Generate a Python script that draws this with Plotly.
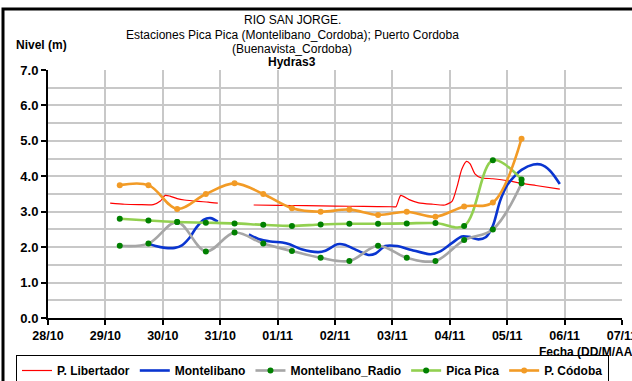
import plotly.graph_objects as go

# --- data -------------------------------------------------------------
# 12-hourly stations (29/10 06:00 -> 05/11 06:00)
t12 = ["2010-10-29 06:00", "2010-10-29 18:00", "2010-10-30 06:00", "2010-10-30 18:00",
       "2010-10-31 06:00", "2010-10-31 18:00", "2010-11-01 06:00", "2010-11-01 18:00",
       "2010-11-02 06:00", "2010-11-02 18:00", "2010-11-03 06:00", "2010-11-03 18:00",
       "2010-11-04 06:00", "2010-11-04 18:00", "2010-11-05 06:00"]
pica_pica = [2.80, 2.75, 2.71, 2.69, 2.67, 2.63, 2.60, 2.64, 2.66, 2.66, 2.67, 2.68, 2.60, 4.45, 3.91]
montelibano_radio = [2.04, 2.10, 2.71, 1.88, 2.41, 2.10, 1.89, 1.70, 1.61, 2.04, 1.70, 1.61, 2.20, 2.50, 3.80]
p_cordoba = [3.75, 3.75, 3.08, 3.50, 3.80, 3.50, 3.10, 3.00, 3.06, 2.91, 3.00, 2.86, 3.15, 3.26, 5.06]

# hourly-style stations (None = no record)
t_lib = ["2010-10-29 02:00", "2010-10-29 08:00", "2010-10-29 14:00", "2010-10-29 20:00",
         "2010-10-29 23:00", "2010-10-30 01:00", "2010-10-30 03:00", "2010-10-30 06:00",
         "2010-10-30 09:00", "2010-10-30 15:00", "2010-10-30 19:00", "2010-10-30 23:00",
         "2010-10-31 07:00",
         "2010-10-31 14:00", "2010-11-01 00:00", "2010-11-01 12:00", "2010-11-02 00:00",
         "2010-11-02 12:00", "2010-11-03 00:00", "2010-11-03 01:30", "2010-11-03 03:30",
         "2010-11-03 07:00", "2010-11-03 11:00", "2010-11-03 17:00", "2010-11-03 22:00",
         "2010-11-04 01:00", "2010-11-04 03:00", "2010-11-04 05:00", "2010-11-04 07:00",
         "2010-11-04 08:30", "2010-11-04 10:30", "2010-11-04 13:00", "2010-11-04 18:00",
         "2010-11-05 00:00", "2010-11-05 06:00", "2010-11-05 12:00", "2010-11-05 22:00"]
p_libertador = [3.24, 3.21, 3.20, 3.20, 3.30, 3.46, 3.44, 3.37, 3.33, 3.29, 3.27, 3.24,
                None,
                3.19, 3.18, 3.17, 3.16, 3.15, 3.14, 3.14, 3.46, 3.34, 3.25, 3.21, 3.19,
                3.30, 3.70, 4.20, 4.42, 4.35, 4.07, 3.96, 3.93, 3.88, 3.80, 3.74, 3.64]

t_mon = ["2010-10-29 18:00", "2010-10-29 21:00", "2010-10-30 01:00", "2010-10-30 05:00",
         "2010-10-30 08:00", "2010-10-30 11:00", "2010-10-30 14:00", "2010-10-30 17:00",
         "2010-10-30 20:00", "2010-10-30 23:00",
         "2010-10-31 05:00",
         "2010-10-31 12:00", "2010-10-31 16:00", "2010-10-31 21:00", "2010-11-01 02:00",
         "2010-11-01 05:00", "2010-11-01 10:00", "2010-11-01 17:00", "2010-11-01 20:00",
         "2010-11-02 01:00", "2010-11-02 04:00", "2010-11-02 08:00", "2010-11-02 14:00",
         "2010-11-02 17:00", "2010-11-02 21:00", "2010-11-03 02:00", "2010-11-03 08:00",
         "2010-11-03 16:00", "2010-11-03 20:00", "2010-11-04 01:00", "2010-11-04 05:00",
         "2010-11-04 08:00", "2010-11-04 12:00", "2010-11-04 15:00", "2010-11-04 18:00",
         "2010-11-04 21:00", "2010-11-05 00:00", "2010-11-05 03:00", "2010-11-05 06:00",
         "2010-11-05 11:00", "2010-11-05 14:00", "2010-11-05 18:00", "2010-11-05 22:00"]
montelibano = [2.10, 2.03, 1.98, 1.98, 2.05, 2.25, 2.55, 2.77, 2.82, 2.72,
               None,
               2.36, 2.23, 2.16, 2.13, 2.08, 1.94, 1.86, 1.90, 2.08, 2.07, 1.95, 1.78,
               1.82, 2.03, 2.03, 1.92, 1.80, 1.88, 2.12, 2.30, 2.29, 2.22, 2.28, 2.60,
               3.30, 3.75, 4.00, 4.18, 4.33, 4.33, 4.15, 3.78]

x_ticks = ["2010-10-28", "2010-10-29", "2010-10-30", "2010-10-31", "2010-11-01", "2010-11-02",
           "2010-11-03", "2010-11-04", "2010-11-05", "2010-11-06", "2010-11-07"]
x_tick_labels = ["28/10", "29/10", "30/10", "31/10", "01/11", "02/11",
                 "03/11", "04/11", "05/11", "06/11", "07/11"]

# --- styling ----------------------------------------------------------
FONT = "Liberation Sans, Arial, sans-serif"
RED = "#FF0000"
BLUE = "#0A35D0"
GRAY = "#A6A6A6"
LGREEN = "#92D050"
DGREEN = "#008000"
ORANGE = "#F29B26"
GRID = "#C8C8C8"

fig = go.Figure()
fig.add_trace(go.Scatter(x=t_lib, y=p_libertador, name="P. Libertador", mode="lines",
                         line=dict(color=RED, width=1.2, shape="spline", smoothing=0.6),
                         connectgaps=False))
fig.add_trace(go.Scatter(x=t_mon, y=montelibano, name="Montelibano", mode="lines",
                         line=dict(color=BLUE, width=2.6, shape="spline", smoothing=0.8),
                         connectgaps=False))
fig.add_trace(go.Scatter(x=t12, y=montelibano_radio, name="Montelibano_Radio", mode="lines+markers",
                         line=dict(color=GRAY, width=2.6, shape="spline", smoothing=1),
                         marker=dict(color=DGREEN, size=6)))
fig.add_trace(go.Scatter(x=t12, y=pica_pica, name="Pica Pica", mode="lines+markers",
                         line=dict(color=LGREEN, width=2.6, shape="spline", smoothing=1),
                         marker=dict(color=DGREEN, size=6)))
fig.add_trace(go.Scatter(x=t12, y=p_cordoba, name="P. Códoba", mode="lines+markers",
                         line=dict(color=ORANGE, width=2.6, shape="spline", smoothing=1),
                         marker=dict(color=ORANGE, size=6)))

# plot area: x 48..622 px, y 70..318 px
L, R, T, B = 48, 10, 70, 63
W, H = 632, 381
pw, ph = W - L - R, H - T - B


def px_x(px):
    return (px - L) / pw


def px_y(py):
    return (H - B - py) / ph


title_lines = [
    ("RIO SAN JORGE.", 20, False),
    ("Estaciones Pica Pica (Montelibano_Cordoba); Puerto Cordoba", 35, False),
    ("(Buenavista_Cordoba)", 48.5, False),
    ("Hydras3", 61.5, True),
]
annotations = []
for text, py, bold in title_lines:
    annotations.append(dict(
        text=f"<b>{text}</b>" if bold else text, x=px_x(292), y=px_y(py),
        xref="paper", yref="paper", xanchor="center", yanchor="middle",
        showarrow=False, font=dict(family=FONT, size=12, color="black")))
annotations.append(dict(
    text="<b>Nivel (m)</b>", x=px_x(14), y=px_y(45), xref="paper", yref="paper",
    xanchor="left", yanchor="middle", showarrow=False,
    font=dict(family=FONT, size=12, color="black")))
annotations.append(dict(
    text="<b>Fecha (DD/M/AA)</b>", x=px_x(537), y=px_y(352), xref="paper", yref="paper",
    xanchor="left", yanchor="middle", showarrow=False,
    font=dict(family=FONT, size=12, color="black")))

shapes = [dict(type="rect", xref="paper", yref="paper",
               x0=px_x(3), x1=px_x(700), y0=px_y(460), y1=px_y(9),
               line=dict(color="black", width=3), layer="below")]

fig.update_layout(
    width=W, height=H, margin=dict(l=L, r=R, t=T, b=B, autoexpand=False),
    paper_bgcolor="white", plot_bgcolor="white",
    font=dict(family=FONT, color="black"),
    showlegend=True,
    legend=dict(orientation="h", x=px_x(16), y=px_y(355), xanchor="left", yanchor="top",
                bordercolor="black", borderwidth=1, bgcolor="white",
                font=dict(family=FONT, size=12, color="black", weight="bold"),
                itemwidth=30, tracegroupgap=0, valign="middle"),
    annotations=annotations,
    shapes=shapes,
    xaxis=dict(type="date", range=["2010-10-28", "2010-11-07"],
               tickvals=x_ticks, ticktext=x_tick_labels, ticklabeloverflow="allow",
               tickfont=dict(family=FONT, size=12.5, color="black", weight="bold"),
               showgrid=True, gridcolor=GRID, gridwidth=1.5,
               showline=True, linecolor="black", linewidth=2,
               ticks="outside", ticklen=5, tickcolor="black", tickwidth=1.5,
               zeroline=False, fixedrange=True, automargin=False),
    yaxis=dict(range=[0, 7], dtick=1, tick0=0, tickformat=".1f",
               tickfont=dict(family=FONT, size=13, color="black", weight="bold"),
               showgrid=True, gridcolor=GRID, gridwidth=1.5,
               minor=dict(dtick=0.5, showgrid=True, gridcolor=GRID, gridwidth=1.5),
               showline=True, linecolor="black", linewidth=2,
               ticks="outside", ticklen=5, tickcolor="black", tickwidth=1.5,
               zeroline=False, fixedrange=True, automargin=False),
)

fig.write_html("out.html")
